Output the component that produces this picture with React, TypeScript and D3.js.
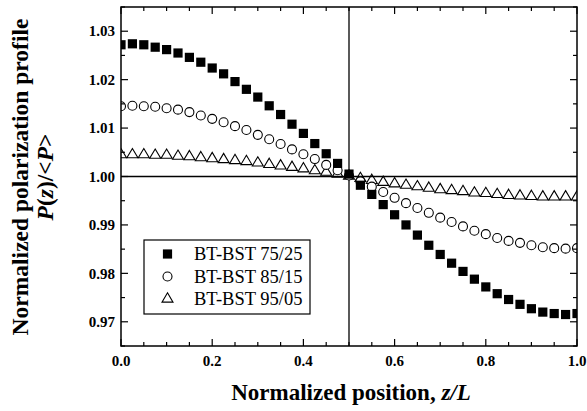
import * as d3 from 'd3';
import React, { useEffect, useRef } from 'react';

// z/L sample positions
const positions = [0, 0.025, 0.05, 0.075, 0.1, 0.125, 0.15, 0.175, 0.2, 0.225, 0.25, 0.275, 0.3, 0.325, 0.35, 0.375, 0.4, 0.425, 0.45, 0.475, 0.5,
    0.525, 0.55, 0.575, 0.6, 0.625, 0.65, 0.675, 0.7, 0.725, 0.75, 0.775, 0.8, 0.825, 0.85, 0.875, 0.9, 0.925, 0.95, 0.975, 1.0];

// P(z)/<P> for each composition
const bst7525 = [1.0272, 1.0274, 1.0272, 1.0267, 1.0262, 1.0255, 1.0246, 1.0236, 1.0224, 1.0212, 1.0196, 1.0180, 1.0164, 1.0146, 1.0128, 1.0108, 1.0089, 1.0068, 1.0047, 1.0027, 1.0005,
    0.9982, 0.9963, 0.9942, 0.9921, 0.9900, 0.9879, 0.9858, 0.9839, 0.9821, 0.9804, 0.9788, 0.9772, 0.9758, 0.9746, 0.9736, 0.9727, 0.9720, 0.9717, 0.9715, 0.9717];
const bst8515 = [1.0145, 1.0146, 1.0145, 1.0144, 1.0141, 1.0138, 1.0133, 1.0126, 1.0119, 1.0112, 1.0104, 1.0096, 1.0086, 1.0077, 1.0067, 1.0056, 1.0046, 1.0036, 1.0024, 1.0013, 1.0002,
    0.9990, 0.9979, 0.9968, 0.9956, 0.9945, 0.9935, 0.9925, 0.9915, 0.9906, 0.9897, 0.9888, 0.9881, 0.9873, 0.9867, 0.9863, 0.9858, 0.9854, 0.9852, 0.9851, 0.9852];
const bst9505 = [1.0045, 1.0045, 1.0045, 1.0044, 1.0044, 1.0042, 1.0041, 1.0039, 1.0037, 1.0035, 1.0033, 1.0031, 1.0028, 1.0025, 1.0022, 1.0019, 1.0016, 1.0012, 1.0009, 1.0005, 1.0001,
    0.9996, 0.9992, 0.9988, 0.9985, 0.9982, 0.9979, 0.9976, 0.9973, 0.9971, 0.9969, 0.9966, 0.9965, 0.9963, 0.9961, 0.9960, 0.9959, 0.9958, 0.9958, 0.9958, 0.9958];

const seriesNames = ['BT-BST 75/25', 'BT-BST 85/15', 'BT-BST 95/05'];
const xTicks = [0, 0.2, 0.4, 0.6, 0.8, 1.0];
const xTickLabels = ['0.0', '0.2', '0.4', '0.6', '0.8', '1.0'];
const yTicks = [0.97, 0.98, 0.99, 1.00, 1.01, 1.02, 1.03];
const yTickLabels = ['0.97', '0.98', '0.99', '1.00', '1.01', '1.02', '1.03'];

const FONT = '"Liberation Serif", "Times New Roman", serif';

const squarePath = 'M-4.6,-4.6H4.6V4.6H-4.6Z';
const trianglePath = 'M0,-6.2L5.5,3.1L-5.5,3.1Z';

function drawMarker(g, kind, x, y) {
    if (kind === 0) {
        g.append('path').attr('d', squarePath).attr('transform', 'translate(' + x + ',' + y + ')')
            .attr('fill', '#000');
    } else if (kind === 1) {
        g.append('circle').attr('cx', x).attr('cy', y).attr('r', 4.5)
            .attr('fill', '#fff').attr('stroke', '#000').attr('stroke-width', 1.1);
    } else {
        g.append('path').attr('d', trianglePath).attr('transform', 'translate(' + x + ',' + y + ')')
            .attr('fill', 'none').attr('stroke', '#000').attr('stroke-width', 1.1);
    }
}

export default function App() {
    const ref = useRef(null);

    useEffect(() => {
        const svg = d3.select(ref.current);
        svg.selectAll('*').remove();

        const left = 121, right = 577, top = 7, bottom = 346;

        const x = d3.scaleLinear().domain([0, 1]).range([left, right]);
        const y = d3.scaleLinear().domain([0.965, 1.035]).range([bottom, top]);

        svg.append('defs').append('clipPath').attr('id', 'plot-clip')
            .append('rect').attr('x', left).attr('y', top).attr('width', right - left).attr('height', bottom - top);

        // reference lines at z/L = 0.5 and P = 1
        svg.append('line').attr('x1', x(0.5)).attr('x2', x(0.5)).attr('y1', top).attr('y2', bottom)
            .attr('stroke', '#000').attr('stroke-width', 1.3);
        svg.append('line').attr('x1', left).attr('x2', right).attr('y1', y(1)).attr('y2', y(1))
            .attr('stroke', '#000').attr('stroke-width', 1.3);

        // data
        const marks = svg.append('g').attr('clip-path', 'url(#plot-clip)');
        [bst9505, bst8515, bst7525].forEach((series, si) => {
            const kind = 2 - si;
            series.forEach((v, i) => drawMarker(marks, kind, x(positions[i]), y(v)));
        });

        // ticks on all four sides, pointing inward
        const tickG = svg.append('g').attr('stroke', '#000').attr('stroke-width', 1.2);
        x.ticks(20).forEach(t => {
            const major = xTicks.some(m => Math.abs(m - t) < 1e-6);
            const len = major ? 7 : 4;
            tickG.append('line').attr('x1', x(t)).attr('x2', x(t)).attr('y1', bottom).attr('y2', bottom - len);
            tickG.append('line').attr('x1', x(t)).attr('x2', x(t)).attr('y1', top).attr('y2', top + len);
        });
        y.ticks(14).forEach(t => {
            const major = yTicks.some(m => Math.abs(m - t) < 1e-6);
            const len = major ? 7 : 4;
            tickG.append('line').attr('x1', left).attr('x2', left + len).attr('y1', y(t)).attr('y2', y(t));
            tickG.append('line').attr('x1', right).attr('x2', right - len).attr('y1', y(t)).attr('y2', y(t));
        });

        // frame
        svg.append('rect').attr('x', left).attr('y', top).attr('width', right - left).attr('height', bottom - top)
            .attr('fill', 'none').attr('stroke', '#000').attr('stroke-width', 1.5);

        // tick labels
        const labels = svg.append('g').attr('font-family', FONT).attr('font-weight', 'bold')
            .attr('font-size', 15).attr('fill', '#000');
        xTicks.forEach((t, i) => {
            labels.append('text').attr('x', x(t)).attr('y', 366).attr('text-anchor', 'middle').text(xTickLabels[i]);
        });
        yTicks.forEach((t, i) => {
            labels.append('text').attr('x', left - 6).attr('y', y(t)).attr('dy', '0.35em')
                .attr('text-anchor', 'end').text(yTickLabels[i]);
        });

        // axis titles
        const xt = svg.append('text').attr('x', (left + right) / 2 + 2).attr('y', 400)
            .attr('text-anchor', 'middle').attr('font-family', FONT).attr('font-weight', 'bold').attr('font-size', 23);
        xt.append('tspan').text('Normalized position, ');
        xt.append('tspan').attr('font-style', 'italic').text('z/L');

        const yt = svg.append('g').attr('transform', 'translate(28,' + 177 + ') rotate(-90)')
            .attr('font-family', FONT).attr('font-weight', 'bold').attr('font-size', 23.5);
        yt.append('text').attr('text-anchor', 'middle').text('Normalized polarization profile');
        const yt2 = yt.append('text').attr('y', 24.5).attr('text-anchor', 'middle');
        yt2.append('tspan').attr('font-style', 'italic').text('P');
        yt2.append('tspan').text('(');
        yt2.append('tspan').attr('font-style', 'italic').text('z');
        yt2.append('tspan').text(')/<');
        yt2.append('tspan').attr('font-style', 'italic').text('P');
        yt2.append('tspan').text('>');

        // legend
        const lg = svg.append('g');
        lg.append('rect').attr('x', 144).attr('y', 240).attr('width', 166).attr('height', 74)
            .attr('fill', '#fff').attr('stroke', '#000').attr('stroke-width', 1.2);
        seriesNames.forEach((name, i) => {
            const cy = 254 + i * 22.5;
            drawMarker(lg, i, 167.5, cy);
            lg.append('text').attr('x', 194).attr('y', cy + 6).attr('font-family', FONT)
                .attr('font-size', 18.5).attr('fill', '#000').text(name);
        });
    }, []);

    return (
        <svg ref={ref} width={587} height={411}
            style={{ position: 'absolute', left: 0, top: 0, background: '#fff' }} />
    );
}
